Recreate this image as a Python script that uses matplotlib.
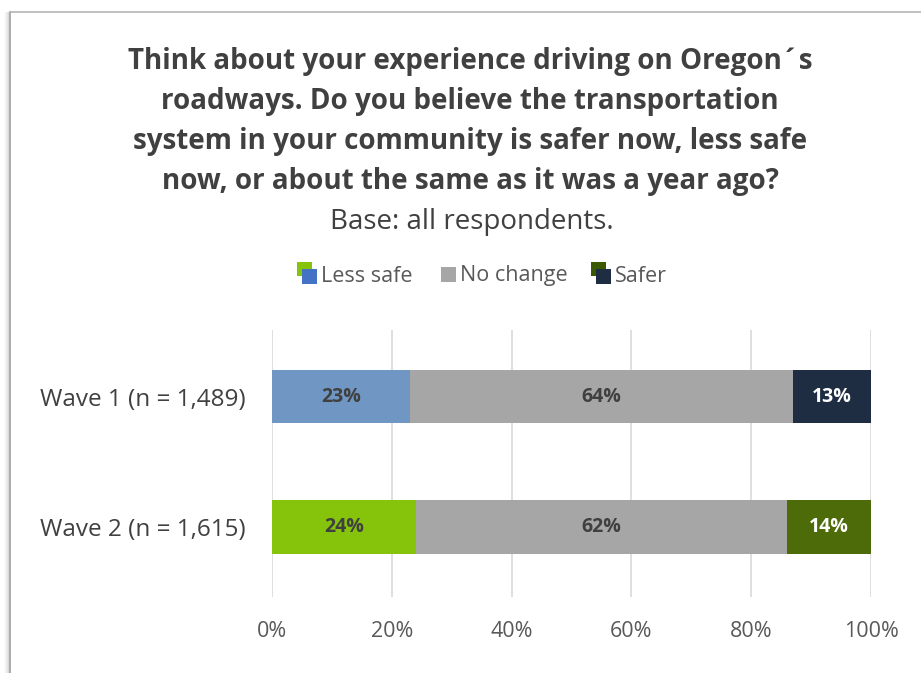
import matplotlib
matplotlib.use("Agg")
import matplotlib.pyplot as plt
from matplotlib.patches import Rectangle
from matplotlib.lines import Line2D
from matplotlib.legend_handler import HandlerBase

plt.rcParams['font.family'] = ['Open Sans', 'DejaVu Sans']

# Data
waves = ["Wave 1 (n = 1,489)", "Wave 2 (n = 1,615)"]
series = ["Less safe", "No change", "Safer"]
less_safe = [23, 24]
no_change = [64, 62]
safer = [13, 14]
x_ticks = [0, 20, 40, 60, 80, 100]
x_tick_labels = ["0%", "20%", "40%", "60%", "80%", "100%"]

# Per-wave colours
colors = {
    "Less safe": ["#7097C3", "#86C40C"],
    "No change": ["#A6A6A6", "#A6A6A6"],
    "Safer": ["#1F2D42", "#4D6C09"],
}
label_colors = {
    "Less safe": "#404040",
    "No change": "#404040",
    "Safer": "#FFFFFF",
}

W, H = 921, 673
fig = plt.figure(figsize=(W / 100, H / 100), dpi=100)

# Card frame with a soft shadow on the left edge
for i, a in enumerate([0.10, 0.07, 0.05, 0.03, 0.02]):
    fig.add_artist(Line2D([(9 - i) / W, (9 - i) / W], [0, 1 - 13 / H],
                          transform=fig.transFigure, color="#000000",
                          alpha=a, lw=1.2))
fig.add_artist(Line2D([10 / W, 10 / W], [0, 1 - 12 / H], transform=fig.transFigure,
                      color="#A0A0A0", lw=1.2))
fig.add_artist(Line2D([10 / W, 1], [1 - 12 / H, 1 - 12 / H], transform=fig.transFigure,
                      color="#B5B5B5", lw=1.2))

ax = fig.add_axes([272 / W, 1 - 597 / H, 599 / W, 267 / H])

ypos = [1, 0]  # Wave 1 on top
bar_h = 0.41
values = {"Less safe": less_safe, "No change": no_change, "Safer": safer}
left = [0, 0]
for s in series:
    vals = values[s]
    for i, y in enumerate(ypos):
        ax.barh(y, vals[i], left=left[i], height=bar_h, color=colors[s][i],
                edgecolor="none", zorder=3)
        ax.text(left[i] + vals[i] / 2, y, f"{vals[i]}%", ha="center", va="center",
                fontsize=14, fontweight="bold", color=label_colors[s], zorder=4)
        left[i] += vals[i]

ax.set_xlim(0, 100)
ax.set_ylim(-0.536, 1.51)
ax.set_xticks(x_ticks)
ax.set_xticklabels(x_tick_labels, fontsize=15.5, color="#595959")
ax.set_yticks(ypos)
ax.set_yticklabels(waves, fontsize=17.5, color="#404040")
ax.tick_params(axis="both", length=0)
ax.tick_params(axis="x", pad=17)
ax.tick_params(axis="y", pad=19)
ax.grid(axis="x", color="#D9D9D9", lw=1.2, zorder=0)
for sp in ax.spines.values():
    sp.set_visible(False)

# Title and subtitle
title_lines = ["Think about your experience driving on Oregon\u00b4s",
               "roadways. Do you believe the transportation",
               "system in your community is safer now, less safe",
               "now, or about the same as it was a year ago?"]
for k, line in enumerate(title_lines):
    fig.text(470 / W, 1 - (62 + 40 * k) / H, line, ha="center", va="center",
             fontsize=20, fontweight="bold", color="#404040")
fig.text(472 / W, 1 - 222 / H, "Base: all respondents.", ha="center", va="center",
         fontsize=20, color="#404040")


# Legend with two-tone swatches for series whose colour differs per wave
class TwoTone:
    def __init__(self, back, front):
        self.back, self.front = back, front


class TwoToneHandler(HandlerBase):
    def create_artists(self, legend, orig, xd, yd, width, height, fontsize, trans):
        s = height * 0.95
        x0 = xd + width - s * 1.35
        back = Rectangle((x0, yd + s * 0.35), s, s, facecolor=orig.back,
                         edgecolor="none", transform=trans)
        front = Rectangle((x0 + s * 0.35, yd - s * 0.15), s, s, facecolor=orig.front,
                          edgecolor="none", transform=trans)
        return [back, front]


class SingleHandler(HandlerBase):
    def create_artists(self, legend, orig, xd, yd, width, height, fontsize, trans):
        s = height * 0.95
        x0 = xd + width - s * 1.0
        r = Rectangle((x0, yd), s, s, facecolor=orig.front, edgecolor="none",
                      transform=trans)
        return [r]


class Single:
    def __init__(self, c):
        self.front = c


handles = [TwoTone("#86C40C", "#4472C4"), Single("#A6A6A6"), TwoTone("#3B5A00", "#1F2D42")]
leg = fig.legend(handles, series, loc="center", bbox_to_anchor=(481 / W, 1 - 276 / H),
                 ncol=3, frameon=False, fontsize=15.5, handlelength=1.0,
                 handletextpad=0.2, columnspacing=1.0,
                 handler_map={TwoTone: TwoToneHandler(), Single: SingleHandler()})
for t in leg.get_texts():
    t.set_color("#595959")

fig.savefig("out.png", dpi=100, facecolor="white")
